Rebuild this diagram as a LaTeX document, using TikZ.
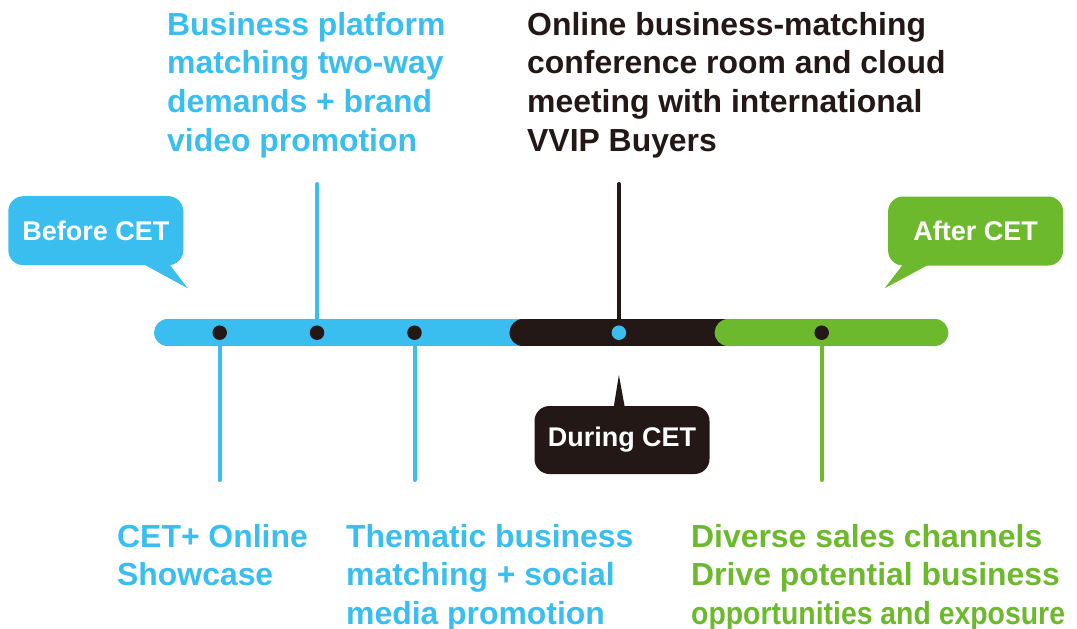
\documentclass[tikz,border=0pt]{standalone}
\usepackage{fontspec}
\setmainfont{Liberation Sans}
\definecolor{cblue}{HTML}{3ABEF0}
\definecolor{cblack}{HTML}{231815}
\definecolor{cgreen}{HTML}{6DB92D}
\pgfdeclarelayer{bg}
\pgfsetlayers{bg,main}
\begin{document}
\begin{tikzpicture}[x=1pt,y=-1pt,
  txt/.style={anchor=north west, inner sep=0pt, align=left, font=\bfseries\fontsize{31.9}{38.6}\selectfont},
  callout/.style={rounded corners=15pt, minimum width=175pt, minimum height=69pt, inner sep=0pt, text=white, font=\bfseries\fontsize{27}{30}\selectfont},
  dot/.style={circle, fill=cblack, inner sep=0pt, minimum size=14.5pt},
  stem/.style={line width=4pt, line cap=round},
  bar/.style={line width=26.7pt, line cap=round}]
\useasboundingbox (0,0) rectangle (1077,629);
% dots
\node[dot] (d1) at (219.7,332.7) {};
\node[dot] (d2) at (317,332.7) {};
\node[dot] (d3) at (414.5,332.7) {};
\node[dot, fill=cblue] (d4) at (618.9,332.7) {};
\node[dot] (d5) at (821.7,332.7) {};
% stem ends
\coordinate (e1) at (219.7,480);
\coordinate (e2) at (317,184);
\coordinate (e3) at (414.5,480);
\coordinate (e4) at (618.9,184);
\coordinate (e5) at (821.7,480);
\begin{pgfonlayer}{bg}
% timeline bar
\draw[bar, cblue] (167.4,332.7) -- (560,332.7);
\draw[bar, cblack] (522.8,332.7) -- (760,332.7);
\draw[bar, cgreen] (728,332.7) -- (935,332.7);
% stems
\draw[stem, cblue] (d1.center) -- (e1);
\draw[stem, cblue] (d2.center) -- (e2);
\draw[stem, cblue] (d3.center) -- (e3);
\draw[stem, cblack] (d4.center) -- (e4);
\draw[stem, cgreen] (d5.center) -- (e5);
\end{pgfonlayer}
% callouts
\node[callout, fill=cblue] (before) at (95.8,230.7) {Before CET};
\fill[cblue] (139.5,262) -- (187.7,288.3) -- (167.7,262) -- cycle;
\node[callout, fill=cblack, minimum height=68pt] (during) at (622,440) {During CET};
\fill[cblack] (613.4,409) -- (618.9,375) -- (625.1,409) -- cycle;
\node[callout, fill=cgreen] (after) at (975.6,231) {After CET};
\fill[cgreen] (904.9,262) -- (884.6,288.3) -- (933.6,262) -- cycle;
% texts
\node[txt, text=cblue] (tbp) at (167,11) {\rule{0pt}{24pt}Business platform\\matching two-way\\demands + brand\\video promotion};
\node[txt, text=cblack] (tom) at (527,11) {\rule{0pt}{24pt}Online business-matching\\conference room and cloud\\meeting with international\\VVIP Buyers};
\node[txt, text=cblue] (tcet) at (117,523) {\rule{0pt}{24pt}CET+ Online\\Showcase};
\node[txt, text=cblue] (tth) at (346,523) {\rule{0pt}{24pt}Thematic business\\matching + social\\media promotion};
\node[txt, text=cgreen] (tdv) at (691,523) {\rule{0pt}{24pt}Diverse sales channels\\Drive potential business\\\scalebox{0.89}[1]{opportunities and exposure}};
\end{tikzpicture}
\end{document}
